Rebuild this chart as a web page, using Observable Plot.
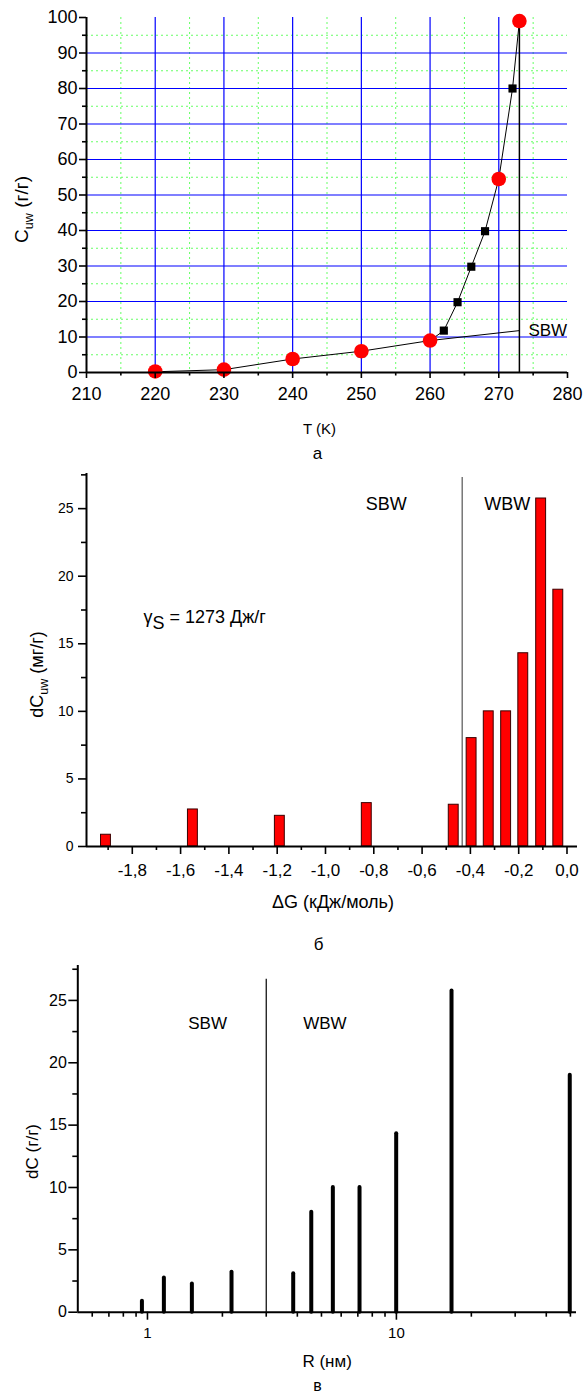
<!DOCTYPE html>
<html><head><meta charset="utf-8">
<script src="https://cdn.jsdelivr.net/npm/d3@7"></script>
<script src="https://cdn.jsdelivr.net/npm/@observablehq/plot@0.6"></script>
<style>
body{margin:0;background:#fff;}
#wrap{position:relative;width:586px;height:1393px;overflow:hidden;background:#fff;}
#wrap svg{display:block}
</style></head><body><div id="wrap"></div>
<script>
// ---------- Panel а : C_uw(T) ----------
const T_red = [220, 230, 240, 250, 260, 270, 273];
const C_red = [0.3, 0.8, 3.8, 6.0, 9.0, 54.5, 99];
const T_sq  = [250, 262, 264, 266, 268, 272];
const C_sq  = [5.4, 11.8, 19.8, 29.8, 39.8, 80];
const T_sbw = [220, 230, 240, 250, 260, 273];
const C_sbw = [0.2, 0.8, 3.8, 6.0, 9.0, 11.8];
const T_wbw = [260, 262, 264, 266, 268, 270, 272, 273];
const C_wbw = [9.0, 11.8, 19.8, 29.8, 39.8, 54.5, 80, 99];
const T_melt = 273;
const aXTicks = [210, 220, 230, 240, 250, 260, 270, 280];
const aXMinor = [215, 225, 235, 245, 255, 265, 275];
const aYTicks = [0, 10, 20, 30, 40, 50, 60, 70, 80, 90, 100];
const aYMinor = [5, 15, 25, 35, 45, 55, 65, 75, 85, 95];
const aGridX = [220, 230, 240, 250, 260, 270];
const aGridY = [10, 20, 30, 40, 50, 60, 70, 80, 90];

// ---------- Panel б : dC_uw(ΔG) ----------
const dG = [-1.909, -1.549, -1.189, -0.829, -0.469, -0.395, -0.324, -0.252, -0.181, -0.107, -0.036];
const dC = [0.87, 2.74, 2.27, 3.21, 3.09, 8.02, 10.0, 10.0, 14.3, 25.75, 19.0];
const dG_border = -0.434;
const bXTicks = [-1.8, -1.6, -1.4, -1.2, -1.0, -0.8, -0.6, -0.4, -0.2, 0.0];
const bXMinor = [-1.9, -1.7, -1.5, -1.3, -1.1, -0.9, -0.7, -0.5, -0.3, -0.1];
const bYTicks = [0, 5, 10, 15, 20, 25];
const bYMinor = [2.5, 7.5, 12.5, 17.5, 22.5, 27.5];

// ---------- Panel в : dC(R) ----------
const R = [0.95, 1.164, 1.508, 2.176, 3.85, 4.55, 5.555, 7.11, 9.98, 16.65, 49.7];
const R_border = 3.0;
const cXTicks = [1, 10];
const cXMinor = [0.6, 0.7, 0.8, 0.9, 2, 3, 4, 5, 6, 7, 8, 9, 20, 30, 40, 50];
const cYTicks = [0, 5, 10, 15, 20, 25];
const cYMinor = [2.5, 7.5, 12.5, 17.5, 22.5, 27.5];

const FONT = '"Liberation Sans", Arial, Helvetica, sans-serif';
const wrap = document.getElementById("wrap");

function subs(svg) {
  d3.select(svg).selectAll("text").each(function () {
    const s = this.textContent;
    const m = s.match(/^(.*?)_(\{|\[)(.*?)(\}|\])(.*)$/);
    if (!m) return;
    const fs = parseFloat(getComputedStyle(this).fontSize) || 18;
    const small = m[2] === "{";
    const shift = small ? 0.28 * fs : 0.3 * fs;
    this.textContent = "";
    const el = d3.select(this);
    el.append("tspan").text(m[1]);
    el.append("tspan").attr("dy", shift).attr("font-size", small ? fs * 0.7 : fs).text(m[3]);
    el.append("tspan").attr("dy", -shift).text(m[5]);
  });
}

const rowsA = (xs, ys) => xs.map((x, i) => ({x, y: ys[i]}));

// ---------- Plot а ----------
const pa = Plot.plot({
  width: 586, height: 470,
  marginTop: 17, marginBottom: 98, marginLeft: 86, marginRight: 19,
  style: {fontFamily: FONT, fontSize: "18px", background: "transparent", color: "#000"},
  x: {domain: [210, 280], label: null},
  y: {domain: [0, 100], label: null},
  marks: [
    Plot.ruleX(aXMinor, {stroke: "#66ff66", strokeDasharray: "2,3", strokeWidth: 1}),
    Plot.ruleY(aYMinor, {stroke: "#66ff66", strokeDasharray: "2,3", strokeWidth: 1}),
    Plot.ruleX(aGridX, {stroke: "#0000ff", strokeWidth: 1.2}),
    Plot.ruleY(aGridY, {stroke: "#0000ff", strokeWidth: 1.2}),
    Plot.ruleX([T_melt], {y1: 0, y2: C_wbw[C_wbw.length - 1], stroke: "#000", strokeWidth: 1.5}),
    Plot.line(rowsA(T_sbw, C_sbw), {x: "x", y: "y", stroke: "#000", strokeWidth: 1}),
    Plot.line(rowsA(T_wbw, C_wbw), {x: "x", y: "y", stroke: "#000", strokeWidth: 1}),
    Plot.dot(rowsA(T_sq, C_sq), {x: "x", y: "y", symbol: "square", r: 4.6, fill: "#000"}),
    Plot.dot(rowsA(T_red, C_red), {x: "x", y: "y", r: 7.3, fill: "#ff0000"}),
    Plot.text(["SBW"], {x: () => T_melt, y: () => C_sbw[C_sbw.length - 1], text: d => d, dx: 9, dy: 0, textAnchor: "start", fontSize: 17, fontFamily: FONT}),
    Plot.ruleY([0], {stroke: "#000", strokeWidth: 2}),
    Plot.ruleX([210], {stroke: "#000", strokeWidth: 2}),
    Plot.axisX(aXTicks, {tickSize: 6, tickPadding: 9, strokeWidth: 1.6, fontSize: 18, label: null}),
    Plot.axisX(aXMinor, {tickSize: 3.5, strokeWidth: 1.6, tickFormat: () => "", label: null}),
    Plot.axisY(aYTicks, {tickSize: 7, tickPadding: 2, strokeWidth: 1.6, fontSize: 18, label: null}),
    Plot.axisY(aYMinor, {tickSize: 4, strokeWidth: 1.6, tickFormat: () => "", label: null}),
    Plot.text(["C_{uw} (г/г)"], {frameAnchor: "left", text: d => d, rotate: -90, textAnchor: "middle", lineAnchor: "bottom", dx: -59, dy: 14.5, fontSize: 19, fontFamily: FONT}),
    Plot.text(["T (K)"], {frameAnchor: "bottom", text: d => d, lineAnchor: "bottom", dx: -7.5, dy: 61, fontSize: 15, fontFamily: FONT}),
    Plot.text(["а"], {frameAnchor: "bottom", text: d => d, lineAnchor: "bottom", dx: -9.5, dy: 86, fontSize: 17, fontFamily: FONT})
  ]
});
subs(pa);
wrap.appendChild(pa);

// ---------- Plot б ----------
const hw = 0.0205;
const rowsB = dG.map((g, i) => ({g, c: dC[i]}));
const pb = Plot.plot({
  width: 586, height: 485,
  marginTop: 3, marginBottom: 109, marginLeft: 86, marginRight: 9,
  style: {fontFamily: FONT, fontSize: "17px", background: "transparent", color: "#000"},
  x: {domain: [-1.9896, 0.0435], label: null},
  y: {domain: [0, 27.6], label: null},
  marks: [
    Plot.ruleX([dG_border], {y1: 0, y2: 27.3, stroke: "#555", strokeWidth: 1.2}),
    Plot.rect(rowsB, {x1: d => d.g - hw, x2: d => d.g + hw, y1: 0, y2: "c", fill: "#ff0000", stroke: "#3a0000", strokeWidth: 1}),
    Plot.text(["SBW"], {x: () => dG_border, frameAnchor: "top", text: d => d, dx: -76, dy: 24, fontSize: 18, fontFamily: FONT}),
    Plot.text(["WBW"], {x: () => dG_border, frameAnchor: "top", text: d => d, dx: 45, dy: 24, fontSize: 18, fontFamily: FONT}),
    Plot.text(["γ_[S] = 1273 Дж/г"], {frameAnchor: "top-left", text: d => d, textAnchor: "start", dx: 57, dy: 137, fontSize: 18, fontFamily: FONT}),
    Plot.ruleY([0], {stroke: "#000", strokeWidth: 2}),
    Plot.ruleX([-1.9896], {stroke: "#000", strokeWidth: 2}),
    Plot.axisX(bXTicks, {tickSize: 8, tickPadding: 9, strokeWidth: 1.6, fontSize: 17, tickFormat: d => d.toFixed(1).replace(".", ","), label: null}),
    Plot.axisX(bXMinor, {tickSize: 4, strokeWidth: 1.6, tickFormat: () => "", label: null}),
    Plot.axisY(bYTicks, {tickSize: 8, tickPadding: 5, strokeWidth: 1.6, fontSize: 14, label: null}),
    Plot.axisY(bYMinor, {tickSize: 5, strokeWidth: 1.6, tickFormat: () => "", label: null}),
    Plot.text(["dC_{uw} (мг/г)"], {frameAnchor: "left", text: d => d, rotate: -90, textAnchor: "middle", lineAnchor: "bottom", dx: -44, dy: 14.5, fontSize: 18, fontFamily: FONT}),
    Plot.text(["ΔG (кДж/моль)"], {frameAnchor: "bottom", text: d => d, lineAnchor: "bottom", dx: 1, dy: 61, fontSize: 18, fontFamily: FONT}),
    Plot.text(["б"], {frameAnchor: "bottom", text: d => d, lineAnchor: "bottom", dx: -13.5, dy: 103, fontSize: 17, fontFamily: FONT})
  ]
});
subs(pb);
wrap.appendChild(pb);

// ---------- Plot в ----------
const rowsC = R.map((r, i) => ({r, c: dC[i]}));
const pc = Plot.plot({
  width: 586, height: 438,
  marginTop: 10, marginBottom: 81.3, marginLeft: 77.3, marginRight: 10,
  style: {fontFamily: FONT, fontSize: "15px", background: "transparent", color: "#000"},
  x: {type: "log", domain: [0.525, 52.9], label: null},
  y: {domain: [0, 27.8], label: null},
  marks: [
    Plot.ruleX([R_border], {y1: 0, y2: 26.7, stroke: "#000", strokeWidth: 1.2}),
    Plot.ruleX(rowsC, {x: "r", y1: 0, y2: "c", stroke: "#000", strokeWidth: 4, strokeLinecap: "round"}),
    Plot.text(["SBW"], {x: () => R_border, frameAnchor: "top", text: d => d, dx: -58.6, dy: 51.7, fontSize: 17, fontFamily: FONT}),
    Plot.text(["WBW"], {x: () => R_border, frameAnchor: "top", text: d => d, dx: 58.7, dy: 51.7, fontSize: 17, fontFamily: FONT}),
    Plot.ruleY([0], {stroke: "#000", strokeWidth: 2}),
    Plot.ruleX([0.525], {stroke: "#000", strokeWidth: 2}),
    Plot.axisX(cXTicks, {tickSize: 8, tickPadding: 7, strokeWidth: 1.6, fontSize: 15, tickFormat: d => String(d), label: null}),
    Plot.axisX(cXMinor, {tickSize: 5, strokeWidth: 1.6, tickFormat: () => "", label: null}),
    Plot.axisY(cYTicks, {tickSize: 9, tickPadding: 2, strokeWidth: 1.6, fontSize: 16, label: null}),
    Plot.axisY(cYMinor, {tickSize: 5, strokeWidth: 1.6, tickFormat: () => "", label: null}),
    Plot.text(["dC (г/г)"], {frameAnchor: "left", text: d => d, rotate: -90, textAnchor: "middle", lineAnchor: "bottom", dx: -40, dy: 12.6, fontSize: 17, fontFamily: FONT}),
    Plot.text(["R (нм)"], {frameAnchor: "bottom", text: d => d, lineAnchor: "bottom", dx: 0, dy: 55, fontSize: 17, fontFamily: FONT}),
    Plot.text(["в"], {frameAnchor: "bottom", text: d => d, lineAnchor: "bottom", dx: -9.7, dy: 78.5, fontSize: 16, fontFamily: FONT})
  ]
});
subs(pc);
wrap.appendChild(pc);
</script>
</body></html>
